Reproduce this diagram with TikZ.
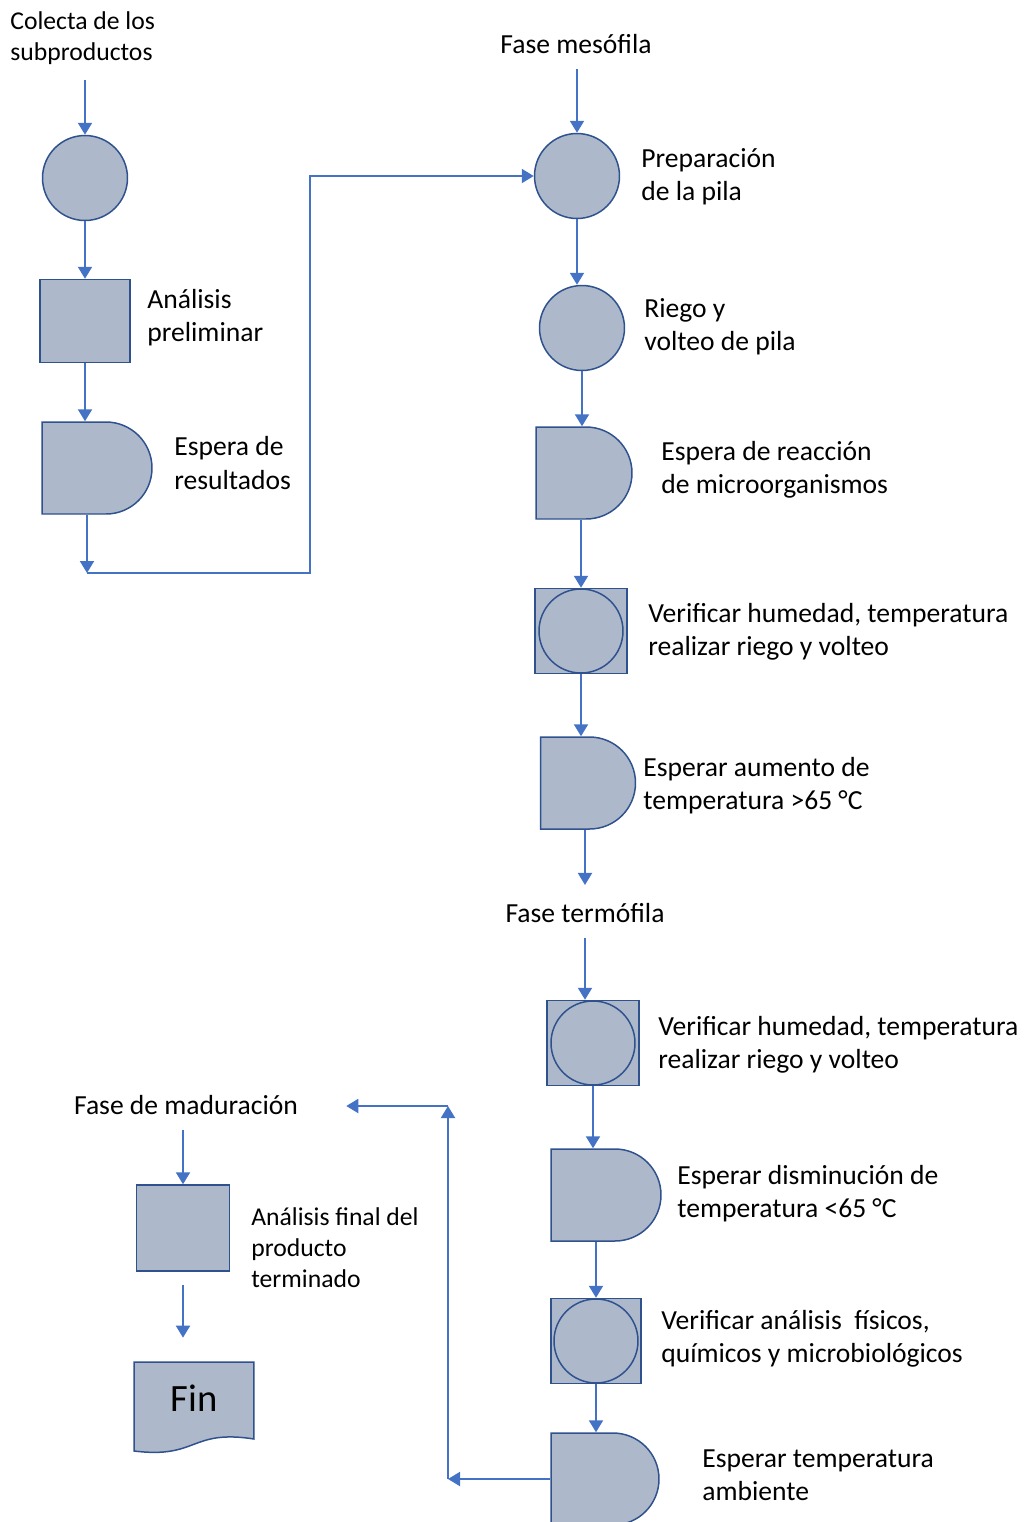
\documentclass[tikz,border=0pt]{standalone}
\usepackage{fontspec}
\setmainfont{Carlito}
\usepackage{tikz}
\usetikzlibrary{shapes.misc, arrows.meta}

\definecolor{shapefill}{HTML}{ADB9CA}
\definecolor{shapeline}{HTML}{2F528F}
\definecolor{flowblue}{HTML}{4472C4}

\begin{document}
\begin{tikzpicture}[
  x=0.02cm, y=-0.02cm,
  base/.style={draw=shapeline, fill=shapefill, line width=0.85pt, inner sep=0pt},
  op/.style={base, circle, minimum size=1.7cm},
  box/.style={base, rectangle, minimum width=1.84cm, minimum height=1.7cm},
  check/.style={box, path picture={\draw[shapeline, line width=0.85pt] (path picture bounding box.center) circle (0.84cm);}},
  wait/.style={base, rounded rectangle, rounded rectangle left arc=none, minimum height=1.84cm, minimum width=2cm},
  txt/.style={anchor=west, align=left, inner sep=0pt, font=\fontsize{15.7}{18.8}\selectfont},
  smalltxt/.style={txt, font=\fontsize{14.6}{17.6}\selectfont},
  phase/.style={inner sep=0pt, font=\fontsize{15.7}{18.8}\selectfont},
  arr/.style={draw=flowblue, line width=1.1pt, -{Triangle[length=2.4mm, width=2.8mm]}},
  every node/.style={text=black}
]
  \useasboundingbox (0,0) rectangle (1029,1522);

  % Left column
  \node[smalltxt] (collect) at (10,38) {Colecta de los\\subproductos};
  \node[op] (l1) at (85,178) {};
  \node[box, minimum width=1.8cm, minimum height=1.66cm] (l2) at (85,321) {};
  \node[txt] (l2t) at (147,318) {Análisis\\preliminar};
  \node[wait, minimum width=2.2cm] (l3) at (97,468) {};
  \node[txt] (l3t) at (174,463) {Espera de\\resultados};
  \coordinate (l4) at (87,573);
  \coordinate (bend) at (310,573);

  % Right column: fase mesofila
  \node[phase] (meso) at (576,44) {Fase mesófila};
  \node[op] (r1) at (577,176) {};
  \node[txt] (r1t) at (641,177) {Preparación\\de la pila};
  \node[op] (r2) at (582,328) {};
  \node[txt] (r2t) at (644,327) {Riego y\\volteo de pila};
  \node[wait, minimum width=1.92cm] (r3) at (584,473) {};
  \node[txt] (r3t) at (661,470) {Espera de reacción\\de microorganismos};
  \node[check] (r4) at (581,631) {};
  \node[txt] (r4t) at (648,632) {Verificar humedad, temperatura\\realizar riego y volteo};
  \node[wait, minimum width=1.9cm] (r5) at (588,783) {};
  \node[txt] (r5t) at (643,786) {Esperar aumento de\\temperatura >65 °C};

  % Right column: fase termofila
  \node[phase] (termo) at (585,913) {Fase termófila};
  \node[check] (r6) at (593,1043) {};
  \node[txt] (r6t) at (658,1045) {Verificar humedad, temperatura\\realizar riego y volteo};
  \node[wait, minimum width=2.2cm] (r7) at (606,1195) {};
  \node[txt] (r7t) at (677,1194) {Esperar disminución de\\temperatura <65 °C};
  \node[check, minimum width=1.8cm] (r8) at (596,1341) {};
  \node[txt] (r8t) at (661,1339) {Verificar análisis~ físicos,\\químicos y microbiológicos};
  \node[wait, minimum width=2.16cm] (r9) at (605,1479) {};
  \node[txt] (r9t) at (702,1475) {Esperar temperatura\\ambiente};

  % Left bottom: fase de maduracion
  \node[phase] (matur) at (186,1105) {Fase de maduración};
  \node[box, minimum width=1.86cm, minimum height=1.72cm] (m1) at (183,1228) {};
  \node[smalltxt] (m1t) at (251,1248) {Análisis final del\\producto\\terminado};
  \node[inner sep=0pt, minimum width=2.64cm, minimum height=1.96cm,
        font=\fontsize{22}{26}\selectfont,
        path picture={
          \draw[base] ([shift={(6,6)}]path picture bounding box.north west)
            -- ([shift={(-6,6)}]path picture bounding box.north east)
            -- ([shift={(-6,-15)}]path picture bounding box.south east)
            .. controls ([shift={(-70,-25)}]path picture bounding box.south east)
            and ([shift={(70,5)}]path picture bounding box.south west)
            .. ([shift={(6,-3)}]path picture bounding box.south west) -- cycle;
        }] (fin) at (194,1405) {\raisebox{0.14cm}[\height][\depth]{Fin}};
  \coordinate (back) at (448,1479);
  \coordinate (up) at (448,1106);

  % Connectors
  \draw[arr, shorten <=0.3cm] (collect.south -| l1) -- (l1);
  \draw[arr] (l1) -- (l2);
  \draw[arr] (l2.south) -- (l2.south |- l3.north);
  \draw[arr] (l3.south -| l4) -- (l4);
  \draw[arr] (l4) -- (bend) |- (r1);

  \draw[arr, shorten <=0.3cm] (meso.south -| r1) -- (r1);
  \draw[arr] (r1.south) -- (r1.south |- r2.north);
  \draw[arr] (r2.south) -- (r2.south |- r3.north);
  \draw[arr] (r3.south -| r4) -- (r4);
  \draw[arr] (r4.south) -- (r4.south |- r5.north);

  \draw[arr, shorten >=0.36cm] (r5.south -| termo) -- (termo);
  \draw[arr, shorten <=0.3cm] (termo.south) -- (termo.south |- r6.north);
  \draw[arr] (r6.south) -- (r6.south |- r7.north);
  \draw[arr] (r7.south -| r8) -- (r8);
  \draw[arr] (r8.south) -- (r8.south |- r9.north);

  \draw[arr] (r9) -- (back);
  \draw[arr] (back) -- (up);
  \draw[arr, shorten >=0.96cm] (up) -- (up -| matur.east);

  \draw[arr, shorten <=0.3cm] (m1.north |- matur.south) -- (m1);
  \draw[arr, shorten <=0.26cm, shorten >=0.36cm] (m1.south) -- (m1.south |- fin.north);

\end{tikzpicture}
\end{document}
